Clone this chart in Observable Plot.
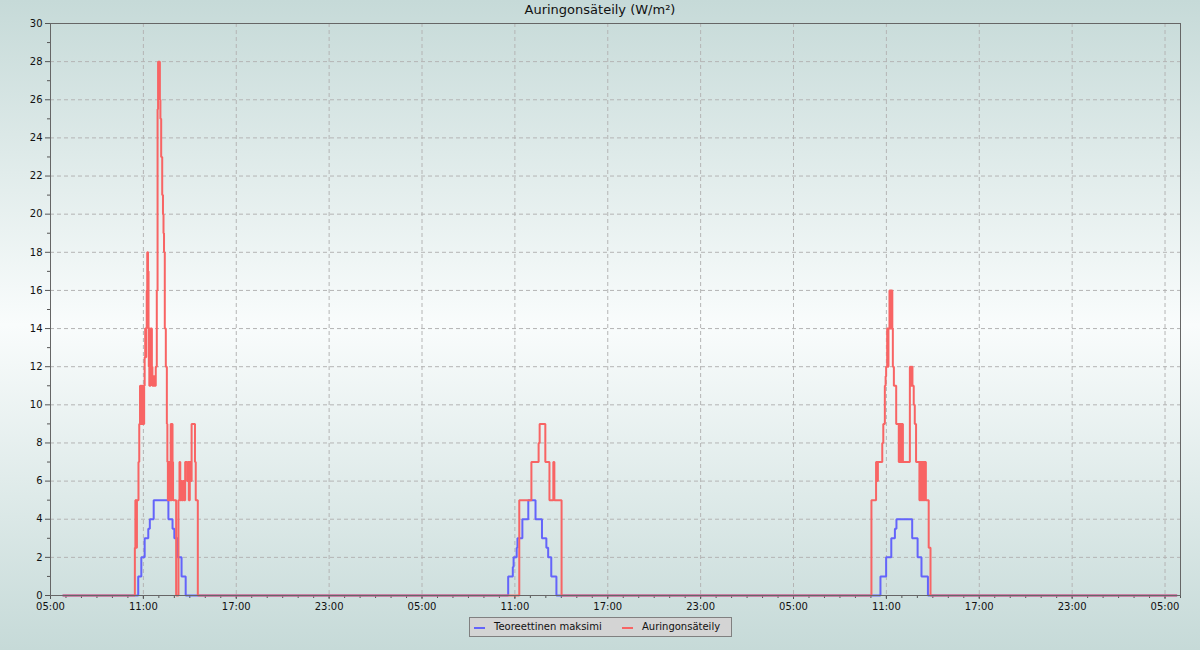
<!DOCTYPE html>
<html>
<head>
<meta charset="utf-8">
<script src="https://cdn.jsdelivr.net/npm/d3@7"></script>
<script src="https://cdn.jsdelivr.net/npm/@observablehq/plot@0.6"></script>
<style>
  html, body { margin: 0; padding: 0; }
  body {
    width: 1200px; height: 650px; overflow: hidden;
    background: linear-gradient(to bottom, #c6dad8 0%, #f9fcfc 50%, #c6dad8 100%);
    font-family: "DejaVu Sans", sans-serif;
  }
  #wrap { position: relative; width: 1200px; height: 650px; }
  #title {
    position: absolute; left: 0; top: 2px; width: 1200px; text-align: center;
    font-size: 13px; color: #111; line-height: 16px;
  }
  #chart { position: absolute; left: 0; top: 0; }
  #legend {
    position: absolute; left: 469px; top: 617px; width: 261px; height: 18px;
    background: #d4d4d4; border: 1px solid #808080;
    font-size: 10px; color: #111; line-height: 18px; white-space: nowrap;
  }
  .item { position: absolute; top: 0; }
  .sw { position: absolute; top: 9px; width: 11px; height: 2px; }
  .lab { position: absolute; top: 0; }
</style>
</head>
<body>
<div id="wrap">
  <div id="chart"></div>
  <div id="title">Auringonsäteily (W/m²)</div>
  <div id="legend"></div>
</div>
<script>
// ---- Data (step change points: [time, value]) ----
const days = ["2024-01-15", "2024-01-16", "2024-01-17"];
const seriesStart = "2024-01-15 05:47";
const seriesEnd = "2024-01-18 05:47";
const axisStart = "2024-01-15 05:00";
const axisEnd = "2024-01-18 06:00";

const seriesNames = ["Teoreettinen maksimi", "Auringonsäteily"];
const seriesColors = ["#6464fa", "#f86464"];

// Theoretical maximum (W/m²)
const theoreticalDay1 = [["10:40",1],["10:52",2],["11:05",3],["11:19",3.5],["11:25",4],["11:40",5],
  ["12:37",4],["12:53",3.5],["13:00",3],["13:13",2],["13:28",1],["13:44",0]];
const theoreticalDay2 = [["10:34",1],["10:52",1.5],["10:55",2],["11:07",2.5],["11:10",3],["11:29",4],["11:52",5],
  ["12:20",4],["12:45",3],["13:02",2.5],["13:09",2],["13:21",1],["13:41",0]];
const theoreticalDay3 = [["10:37",1],["10:59",2],["11:19",3],["11:33",3.5],["11:39",4],
  ["12:40",3],["13:01",2],["13:16",1],["13:41",0]];

// Measured solar radiation (W/m²)
const radiationDay1 = [["10:27",2.5],["10:29",5],["10:30",2.5],["10:32",5],["10:34",2.5],["10:35",5],
  ["10:41",7],["10:44",9],["10:47",11],["10:49",9],["10:51",11],["10:53",9],["10:55",11],["10:57",9],
  ["10:59",11],["11:01",9],["11:03",11],["11:05",12.5],["11:07",14],["11:09",12.5],["11:11",14],
  ["11:13",16],["11:15",18],["11:18",17],["11:20",14],["11:21",12],["11:23",11],["11:24",12],
  ["11:25",14],["11:27",11],["11:28",12],["11:30",14],["11:33",12],["11:35",11],["11:37",11.5],
  ["11:40",11],["11:43",11.5],["11:46",11],["11:48",12],["11:52",16],["11:55",25.5],["11:57",28],
  ["12:04",26],["12:06",25],["12:09",23],["12:13",21],["12:16",20],["12:18",19],["12:20",18],
  ["12:23",14],["12:27",12],["12:31",9],["12:33",7],["12:35",5],["12:37",7],["12:39",5],["12:41",7],
  ["12:43",5],["12:46",9],["12:48",5],["12:50",9],["12:53",7],["12:55",5],["13:07",0],["13:16",5],
  ["13:20",7],["13:23",5],["13:27",6],["13:30",5],["13:33",6],["13:37",5],["13:42",7],["13:50",6],
  ["13:53",7],["13:56",5],["14:00",7],["14:03",6],["14:07",9],["14:20",7],["14:23",5],["14:31",0]];
const radiationDay2 = [["11:17",5],["12:04",7],["12:32",8],["12:36",9],["12:58",7],["13:14",5],
  ["13:29",7],["13:33",5],["14:01",0]];
const radiationDay3 = [["10:02",5],["10:20",7],["10:22",6],["10:24",7],["10:26",6],["10:27",7],
  ["10:44",8],["10:48",9],["10:54",11],["10:57",11.5],["10:59",12],["11:03",14],["11:06",12],
  ["11:08",14],["11:12",16],["11:14",14],["11:16",16],["11:19",14],["11:21",16],["11:23",14],
  ["11:25",12],["11:29",11],["11:38",9],["11:48",7],["11:50",9],["11:52",7],["11:54",9],["11:56",7],
  ["11:58",9],["12:00",7],["12:02",9],["12:04",7],["12:31",12],["12:33",11],["12:35",12],["12:37",11],
  ["12:39",12],["12:41",11],["12:46",10],["12:50",9],["12:55",7],["13:08",5],["13:10",7],["13:12",5],
  ["13:14",7],["13:16",5],["13:18",7],["13:20",5],["13:22",7],["13:24",5],["13:26",7],["13:28",5],
  ["13:30",7],["13:33",5],["13:44",2.5],["13:51",0]];

// ---- Build series ----
const parse = d3.timeParse("%Y-%m-%d %H:%M");
function build(perDay) {
  const out = [{t: parse(seriesStart), v: 0}];
  perDay.forEach((pts, i) => pts.forEach(([hm, v]) => out.push({t: parse(days[i] + " " + hm), v})));
  out.push({t: parse(seriesEnd), v: 0});
  return out;
}
const theoretical = build([theoreticalDay1, theoreticalDay2, theoreticalDay3]);
const radiation = build([radiationDay1, radiationDay2, radiationDay3]);

const x0 = parse(axisStart), x1 = parse(axisEnd);
const majorX = d3.range(0, 73, 6).map(h => d3.timeHour.offset(x0, h));
const minorX = d3.range(0, 74, 1).map(h => d3.timeHour.offset(x0, h));
const majorY = d3.range(0, 31, 2);
const minorY = d3.range(1, 30, 2);

const chart = Plot.plot({
  width: 1200,
  height: 615,
  marginTop: 23,
  marginLeft: 50,
  marginRight: 20,
  marginBottom: 20,
  style: {background: "transparent", fontFamily: "DejaVu Sans", fontSize: "10px", color: "#222"},
  x: {type: "time", domain: [x0, x1], label: null},
  y: {domain: [0, 30], label: null},
  marks: [
    Plot.gridX(majorX, {stroke: "#b4b4b4", strokeOpacity: 1, strokeDasharray: "4,3"}),
    Plot.gridY(majorY, {stroke: "#b4b4b4", strokeOpacity: 1, strokeDasharray: "4,3"}),
    Plot.axisX({ticks: minorX, tickSize: 3, tickFormat: () => "", label: null, stroke: "#555"}),
    Plot.axisX({ticks: majorX, tickSize: 4, tickPadding: 3, tickFormat: d3.timeFormat("%H:%M"), label: null, stroke: "#555", fill: "#111"}),
    Plot.axisY({ticks: minorY, tickSize: 3, tickFormat: () => "", label: null, stroke: "#555"}),
    Plot.axisY({ticks: majorY, tickSize: 5, tickPadding: 3, label: null, stroke: "#555", fill: "#111"}),
    Plot.line(theoretical, {x: "t", y: "v", curve: "step-after", stroke: seriesColors[0], strokeWidth: 2,
      strokeLinejoin: "miter", strokeLinecap: "butt"}),
    Plot.line(radiation, {x: "t", y: "v", curve: "step-after", stroke: seriesColors[1], strokeWidth: 2,
      strokeLinejoin: "miter", strokeLinecap: "butt"}),
    Plot.frame({stroke: "#666", strokeOpacity: 1})
  ]
});
document.getElementById("chart").appendChild(chart);

// ---- Legend ----
const legend = document.getElementById("legend");
const offsets = [[4, 24], [152, 172]];
seriesNames.forEach((name, i) => {
  const sw = document.createElement("div");
  sw.className = "sw";
  sw.style.left = offsets[i][0] + "px";
  sw.style.background = seriesColors[i];
  legend.appendChild(sw);
  const lab = document.createElement("div");
  lab.className = "lab";
  lab.style.left = offsets[i][1] + "px";
  lab.textContent = name;
  legend.appendChild(lab);
});
</script>
</body>
</html>
